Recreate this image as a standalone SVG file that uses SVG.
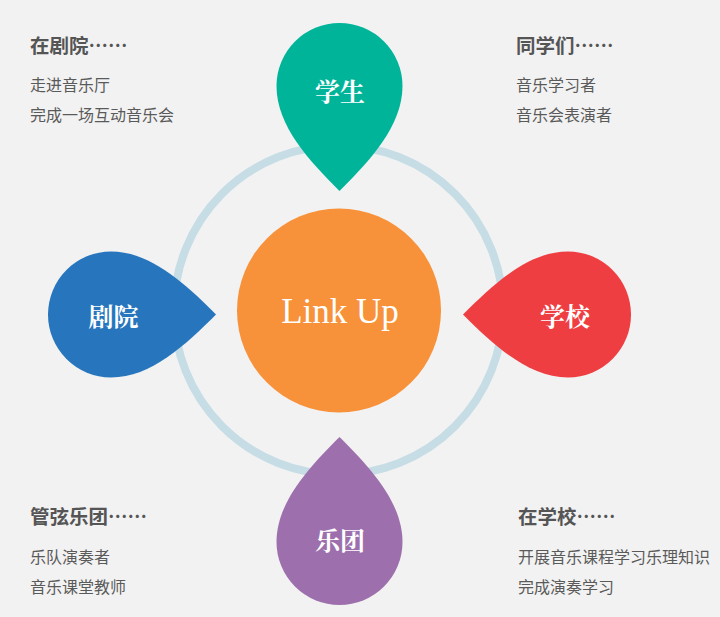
<svg xmlns="http://www.w3.org/2000/svg" width="720" height="617" viewBox="0 0 720 617">
<style>
.h{font-family:"Noto Sans CJK SC","Noto Sans",sans-serif;font-weight:bold;font-size:19.5px;fill:#555555}
.b{font-family:"Noto Sans CJK SC","Noto Sans",sans-serif;font-size:16px;fill:#5a5a5a}
.d{font-family:"Noto Serif CJK SC","Noto Sans CJK SC",serif;font-weight:bold;font-size:25px;fill:#ffffff;text-anchor:middle}
.c{font-family:"Liberation Serif","DejaVu Serif",serif;font-size:35px;fill:#ffffff;text-anchor:middle}
</style>
<defs>
<path id="drop" d="M0,105 C-30,75 -63,40 -63,0 A63,63 0 1 1 63,0 C63,40 30,75 0,105 Z"/>
</defs>
<rect width="720" height="617" fill="#f2f2f2"/>
<g id="connectors">
<circle cx="338.5" cy="310" r="164.5" fill="none" stroke="#c6dde6" stroke-width="8"/>
</g>
<g id="center">
<circle cx="339" cy="310.5" r="102" fill="#f7923a"/>
<text class="c" x="340" y="323">Link Up</text>
</g>
<g id="student">
<use href="#drop" transform="translate(339.5,86)" fill="#00b49a"/>
<text class="d" x="340" y="101">学生</text>
</g>
<g id="theatre">
<use href="#drop" transform="translate(111,314.5) rotate(-90)" fill="#2776bd"/>
<text class="d" x="113.5" y="326">剧院</text>
</g>
<g id="school">
<use href="#drop" transform="translate(568,314.5) rotate(90)" fill="#ef3e42"/>
<text class="d" x="565" y="326">学校</text>
</g>
<g id="orchestra">
<use href="#drop" transform="translate(339.5,542) rotate(180)" fill="#9d70ad"/>
<text class="d" x="340" y="550">乐团</text>
</g>
<g id="note-theatre">
<text class="h" x="30" y="53">在剧院……</text>
<text class="b" x="30" y="91">走进音乐厅</text>
<text class="b" x="30" y="121">完成一场互动音乐会</text>
</g>
<g id="note-students">
<text class="h" x="516" y="53">同学们……</text>
<text class="b" x="516" y="91">音乐学习者</text>
<text class="b" x="516" y="121">音乐会表演者</text>
</g>
<g id="note-orchestra">
<text class="h" x="30" y="524">管弦乐团……</text>
<text class="b" x="30" y="563">乐队演奏者</text>
<text class="b" x="30" y="593">音乐课堂教师</text>
</g>
<g id="note-school">
<text class="h" x="518" y="524">在学校……</text>
<text class="b" x="518" y="563">开展音乐课程学习乐理知识</text>
<text class="b" x="518" y="593">完成演奏学习</text>
</g>
</svg>
